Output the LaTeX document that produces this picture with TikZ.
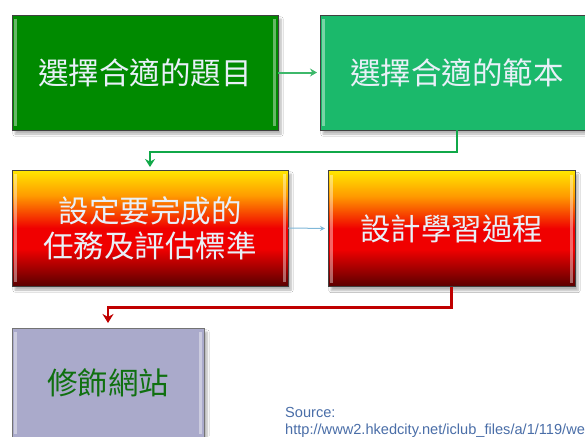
\documentclass[tikz,border=0pt]{standalone}
\usepackage{fontspec}
\setmainfont{Liberation Sans}
\newfontfamily\cjk{Noto Sans CJK TC}
\usetikzlibrary{arrows.meta,shadows.blur}
\definecolor{boxgreen}{HTML}{008A00}
\definecolor{boxteal}{HTML}{1BB96B}
\definecolor{boxlav}{HTML}{AAAACB}
\definecolor{txtwhite}{HTML}{E8F0F8}
\definecolor{txtgreen}{HTML}{107010}
\definecolor{fireyellow}{HTML}{FFE800}
\definecolor{fireorange}{HTML}{FF9A00}
\definecolor{firered}{HTML}{F00000}
\definecolor{firedark}{HTML}{5A0000}
\definecolor{conngreen}{HTML}{3DB86A}
\definecolor{conngreenb}{HTML}{10A848}
\definecolor{connred}{HTML}{C00000}
\definecolor{connblue}{HTML}{80B8D8}
\definecolor{srcblue}{HTML}{4A6EA8}
\pgfdeclareverticalshading{fire}{100bp}{color(0bp)=(firedark); color(25bp)=(firedark); color(41bp)=(firered); color(50bp)=(firered); color(64bp)=(fireorange); color(75bp)=(fireyellow); color(100bp)=(fireyellow)}
\tikzset{
  stepbox/.style={draw=black!75, line width=0.8pt, inner sep=0pt, outer sep=0pt,
    align=center, text=txtwhite, font=\cjk\fontsize{30.5}{35}\selectfont,
    blur shadow={shadow xshift=3pt, shadow yshift=-4pt, shadow blur steps=6, shadow opacity=30}},
  firebox/.style={stepbox, shading=fire},
  conn/.style={line width=2.5pt, shorten >=3pt},
  bevel/.style={white, opacity=0.4, line width=2.5pt}
}
\begin{document}
\begin{tikzpicture}[x=1pt,y=-1pt]
\useasboundingbox (0,0) rectangle (585,436);
\fill[white] (0,0) rectangle (585,436);
\clip (0,0) rectangle (585,436);
\node[stepbox, fill=boxgreen, minimum width=266pt, minimum height=115pt] (box1) at (145,72.5) {選擇合適的題目};
\node[stepbox, fill=boxteal, minimum width=274pt, minimum height=115pt] (box2) at (457,72.5) {選擇合適的範本};
\node[firebox, minimum width=276pt, minimum height=116pt] (box3) at (150,228) {設定要完成的\\任務及評估標準};
\node[firebox, minimum width=247pt, minimum height=116pt] (box4) at (451.5,228.5) {設計學習過程};
\node[stepbox, fill=boxlav, draw=black!55, text=txtgreen, minimum width=192pt, minimum height=110pt] (box5) at (108,383) {修飾網站};
\foreach \b in {box1,box2,box3,box4,box5}{
  \draw[bevel] ([xshift=3.5pt,yshift=-4pt]\b.north west) -- ([xshift=3.5pt,yshift=4pt]\b.south west);
  \draw[bevel] ([xshift=-3.5pt,yshift=-4pt]\b.north east) -- ([xshift=-3.5pt,yshift=4pt]\b.south east);
}
\draw[conn, conngreen, line width=2pt, -{Stealth[length=7pt,width=8pt]}] (box1.east) -- (box2.west);
\draw[conn, conngreenb, -{Stealth[length=8pt,width=10pt]}] (box2.south) -- ++(0,22) -| (box3.north);
\draw[conn, connblue, line width=1pt, -{Stealth[length=5pt,width=5pt]}] (box3.east) -- (box4.west);
\draw[conn, connred, shorten >=5pt, -{Stealth[length=9pt,width=11pt]}] (box4.south) -- ++(0,21) -| (box5.north);
\node[anchor=north west, align=left, inner sep=0pt, text=srcblue, font=\fontsize{14.6}{17}\selectfont] (src) at (285,407) {Source:\\http://www2.hkedcity.net/iclub\_files/a/1/119/we};
\end{tikzpicture}
\end{document}
